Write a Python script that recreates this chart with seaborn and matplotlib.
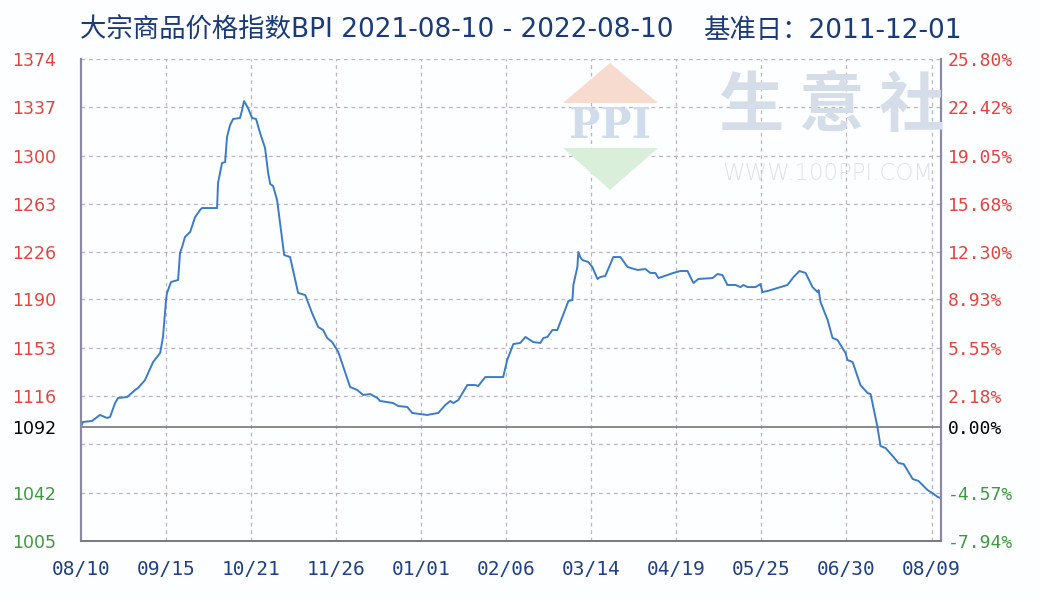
import matplotlib
matplotlib.use("Agg")
import matplotlib.pyplot as plt
from matplotlib.patches import Polygon
import seaborn as sns
import pandas as pd

# BPI index, day offset from 2021-08-10 and value
days = [0, 0.8, 4.7, 8.0, 11.0, 12.3, 14.4, 15.7, 19.5, 22.9, 24.1, 27.1, 30.5, 33.5,
        34.7, 36.0, 36.4, 38.1, 41.1, 41.9, 42.8, 44.0, 46.2, 48.3, 50.4, 51.2, 57.6,
        58.0, 59.7, 61.0, 61.8, 63.1, 64.4, 67.3, 68.2, 69.0, 70.7, 72.4, 74.1, 75.8,
        77.9, 79.2, 80.1, 81.3, 83.0, 86.0, 88.5, 91.9, 94.9, 97.8, 100.4, 102.5, 104.2,
        106.3, 108.9, 113.9, 116.9, 119.4, 122.4, 125.4, 126.6, 132.1, 134.3, 138.1,
        140.2, 146.5, 151.2, 154.2, 156.3, 157.6, 159.7, 163.5, 166.9, 168.1, 171.1,
        178.7, 180.4, 183.0, 185.9, 188.1, 191.4, 194.4, 195.7, 197.4, 199.5, 201.6,
        203.7, 206.3, 208.0, 208.4, 210.1, 210.5, 211.3, 212.2, 214.7, 216.4, 218.6,
        219.8, 221.9, 225.3, 228.3, 231.3, 235.5, 238.9, 241.0, 243.1, 244.4, 248.2,
        250.7, 253.7, 256.7, 259.2, 261.3, 267.3, 269.4, 271.5, 273.6, 277.0, 279.1,
        280.4, 282.1, 285.5, 287.6, 288.4, 290.6, 294.8, 299.0, 301.6, 304.1, 306.7,
        309.6, 311.7, 312.2, 313.0, 316.0, 318.1, 320.2, 323.6, 324.4, 326.6, 329.9,
        332.9, 334.2, 337.1, 338.4, 340.5, 343.9, 346.0, 348.2, 352.0, 354.5, 358.3,
        360.4, 362.6, 363.8]
bpi = [1092.5, 1096.1, 1096.9, 1101.5, 1099.2, 1099.9, 1110.6, 1114.5, 1115.2, 1120.6,
       1122.1, 1128.2, 1142.0, 1148.9, 1161.2, 1189.5, 1194.9, 1203.3, 1204.8, 1225.5,
       1230.1, 1237.7, 1241.6, 1253.0, 1258.4, 1259.9, 1259.9, 1279.1, 1294.4, 1295.1,
       1314.3, 1323.5, 1328.1, 1328.8, 1335.0, 1341.8, 1336.5, 1328.8, 1328.1, 1317.3,
       1305.9, 1286.7, 1278.3, 1276.8, 1266.0, 1223.9, 1222.4, 1194.9, 1193.3, 1179.5,
       1168.8, 1166.5, 1160.4, 1157.3, 1149.7, 1122.9, 1120.6, 1116.8, 1117.5, 1114.5,
       1112.2, 1110.6, 1108.3, 1107.6, 1103.0, 1101.5, 1103.0, 1109.1, 1112.2, 1110.6,
       1112.9, 1124.4, 1124.4, 1123.6, 1130.5, 1130.5, 1143.6, 1155.8, 1156.6, 1161.2,
       1157.3, 1156.6, 1160.4, 1161.2, 1166.5, 1166.5, 1176.5, 1188.7, 1189.5, 1201.0,
       1214.8, 1226.2, 1222.4, 1220.1, 1218.6, 1214.8, 1205.6, 1207.1, 1207.9, 1222.4,
       1222.4, 1214.8, 1212.5, 1213.2, 1210.2, 1210.2, 1206.3, 1208.6, 1210.2, 1211.7,
       1211.7, 1202.5, 1205.6, 1206.3, 1209.4, 1208.6, 1201.0, 1201.0, 1199.4, 1201.0,
       1199.4, 1199.4, 1201.7, 1195.6, 1196.4, 1198.7, 1201.0, 1207.1, 1211.7, 1210.2,
       1199.4, 1195.6, 1197.1, 1188.0, 1174.2, 1160.4, 1158.9, 1148.9, 1143.6, 1142.0,
       1124.4, 1118.3, 1117.5, 1092.3, 1077.7, 1076.2, 1069.3, 1064.7, 1063.9, 1052.5,
       1050.9, 1044.0, 1041.7, 1038.7, 1037.9]

base_value = 1092
y_ticks = [1005, 1042, 1079, 1116, 1153, 1190, 1226, 1263, 1300, 1337, 1374]
y_labels = ["1005", "1042", "", "1116", "1153", "1190", "1226", "1263", "1300", "1337", "1374"]
pct_labels = ["-7.94%", "-4.57%", "", "2.18%", "5.55%", "8.93%", "12.30%", "15.68%",
              "19.05%", "22.42%", "25.80%"]
x_ticks = [0, 36, 72, 108, 144, 180, 216, 252, 288, 324, 360]
x_labels = ["08/10", "09/15", "10/21", "11/26", "01/01", "02/06", "03/14", "04/19",
            "05/25", "06/30", "08/09"]

RED = "#e2463f"
GREEN = "#3f9a3f"
BLUE_LINE = "#3a7cc6"
GRID = "#bab4c0"

sns.set_style("white")
plt.rcParams["font.family"] = ["DejaVu Sans"]

df = pd.DataFrame({"day": days, "bpi": bpi})

fig = plt.figure(figsize=(10.4, 6), dpi=100, facecolor="#fdfeff")
ax = fig.add_axes([81 / 1040, 59 / 600, 860 / 1040, 482 / 600])
ax.patch.set_alpha(0.0)

# watermark
wm = fig.transFigure
def px(x, y):
    return (x / 1040, 1 - y / 600)
fig.patches.append(Polygon([px(563, 103), px(610, 63), px(658, 103)], closed=True,
                           transform=wm, facecolor="#f7dbcf", edgecolor="none", zorder=0))
fig.patches.append(Polygon([px(563, 148), px(610, 190), px(658, 148)], closed=True,
                           transform=wm, facecolor="#daefda", edgecolor="none", zorder=0))
fig.text(*px(610, 126), "PPI", transform=wm, ha="center", va="center", fontsize=30,
         family="DejaVu Serif", fontweight="bold", color="#d0dcec", zorder=0)
fig.text(*px(832, 106), "生 意 社", transform=wm, ha="center", va="center", fontsize=47,
         family="Noto Sans CJK SC", fontweight="bold", color="#d5dde9", zorder=0)
fig.text(*px(828, 173), "WWW.100PPI.COM", transform=wm, ha="center", va="center",
         fontsize=16.5, family="DejaVu Sans", fontweight="light", color="#dfe3ea", zorder=0)

sns.lineplot(data=df, x="day", y="bpi", ax=ax, color=BLUE_LINE, linewidth=1.4,
             estimator=None, sort=False, zorder=3)

ax.set_xlim(0, 364)
ax.set_ylim(y_ticks[0], y_ticks[-1])
ax.set_xlabel("")
ax.set_ylabel("")

for t in y_ticks:
    ax.axhline(t, color=GRID, linewidth=0.9, linestyle=(0, (3, 3)), zorder=1)
for t in x_ticks[1:]:
    ax.axvline(t, color=GRID, linewidth=0.9, linestyle=(0, (3, 3)), zorder=1)
ax.axhline(base_value, color="#808089", linewidth=1.3, zorder=2)

ax.set_yticks(y_ticks + [base_value])
ax.set_yticklabels(y_labels + [str(base_value)])
ax.set_xticks(x_ticks)
ax.set_xticklabels(x_labels)
ax.tick_params(axis="y", length=0, pad=18, labelsize=12.5)
ax.tick_params(axis="x", length=0, pad=14, labelsize=14, labelcolor="#1f3f86")
for lab in ax.get_xticklabels():
    lab.set_family("DejaVu Sans Mono")
for lab, v in zip(ax.get_yticklabels(), y_ticks + [base_value]):
    lab.set_color("black" if v == base_value else (RED if v > base_value else GREEN))

ax2 = ax.twinx()
ax2.set_ylim(ax.get_ylim())
ax2.set_yticks(y_ticks + [base_value])
ax2.set_yticklabels(pct_labels + ["0.00%"])
ax2.tick_params(axis="y", length=0, pad=5, labelsize=13)
for lab, v in zip(ax2.get_yticklabels(), y_ticks + [base_value]):
    lab.set_family("DejaVu Sans Mono")
    lab.set_color("black" if v == base_value else (RED if v > base_value else GREEN))

for a in (ax, ax2):
    a.spines["top"].set_visible(False)
    a.spines["left"].set_color("#8a88a2")
    a.spines["left"].set_linewidth(1.5)
    a.spines["right"].set_color("#8a88a2")
    a.spines["right"].set_linewidth(1.5)
    a.spines["bottom"].set_color("#7a7a80")
    a.spines["bottom"].set_linewidth(1.3)

title_fonts = ["DejaVu Sans", "Noto Sans CJK SC"]
fig.text(80 / 1040, 1 - 31 / 600, "大宗商品价格指数BPI 2021-08-10 - 2022-08-10",
         ha="left", va="center", fontsize=19, color="#1b3b78", family=title_fonts)
fig.text(703 / 1040, 1 - 31 / 600, "基准日：2011-12-01",
         ha="left", va="center", fontsize=19, color="#1b3b78", family=title_fonts)

fig.savefig("out.png", dpi=100, facecolor=fig.get_facecolor())
